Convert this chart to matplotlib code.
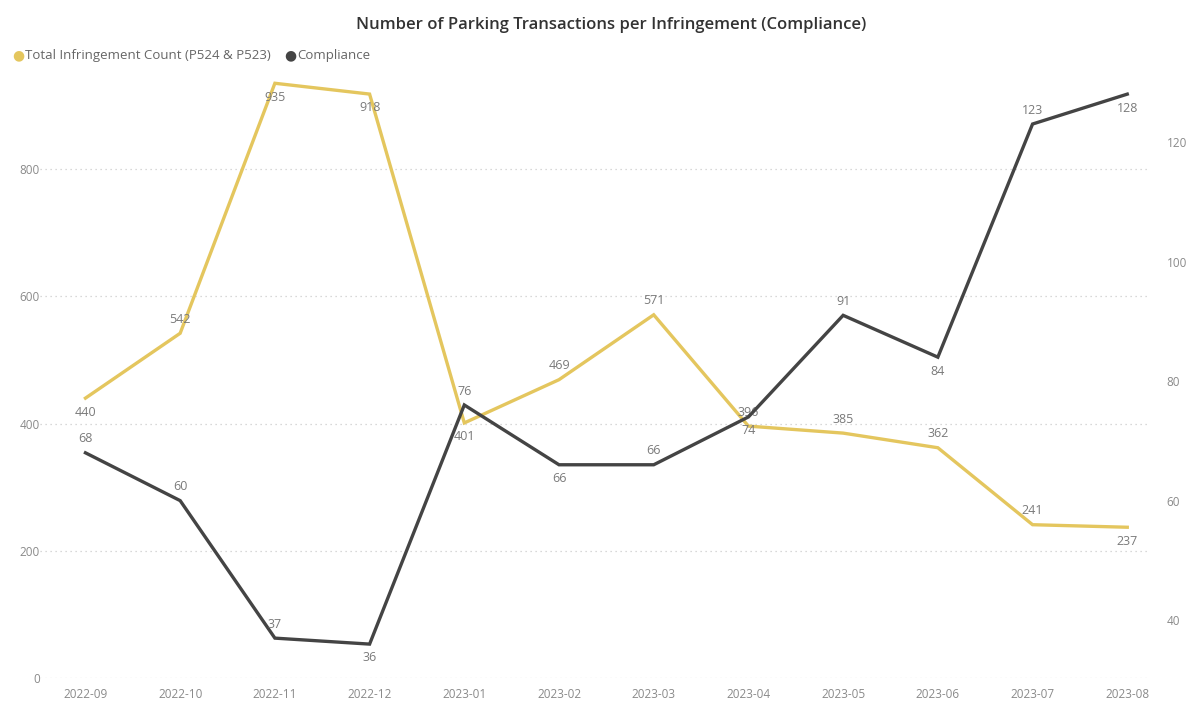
import numpy as np
import matplotlib.pyplot as plt

plt.rcParams['font.family'] = ['Open Sans', 'DejaVu Sans']

months = ['2022-09', '2022-10', '2022-11', '2022-12', '2023-01', '2023-02',
          '2023-03', '2023-04', '2023-05', '2023-06', '2023-07', '2023-08']
infringements = [440, 542, 935, 918, 401, 469, 571, 396, 385, 362, 241, 237]
compliance = [68, 60, 37, 36, 76, 66, 66, 74, 91, 84, 123, 128]

# label placement: 1 = above point, -1 = below
infr_pos = [-1, 1, -1, -1, -1, 1, 1, 1, 1, 1, 1, -1]
comp_pos = [1, 1, 1, -1, 1, -1, 1, -1, 1, -1, 1, -1]

yellow = '#E4C65E'
dark = '#444444'
lbl = '#7a7a7a'

fig = plt.figure(figsize=(11.94, 7.07), dpi=100)
ax = fig.add_axes([40 / 1194, 29 / 707, 1110 / 1194, 603 / 707])
ax2 = ax.twinx()

x = np.arange(len(months))
ax.plot(x, infringements, color=yellow, linewidth=2.4, solid_joinstyle='miter', zorder=3)
ax2.plot(x, compliance, color=dark, linewidth=2.4, solid_joinstyle='miter', zorder=3)

for i, v in enumerate(infringements):
    ax.annotate(str(v), (x[i], v), xytext=(0, 10 * infr_pos[i]), textcoords='offset points',
                ha='center', va='center', fontsize=9, color=lbl)
for i, v in enumerate(compliance):
    ax2.annotate(str(v), (x[i], v), xytext=(0, 10 * comp_pos[i]), textcoords='offset points',
                 ha='center', va='center', fontsize=9, color=lbl)

ax.set_xlim(-0.48, 11.24)
ax.set_ylim(0, 948)
ax2.set_ylim(30.33, 131.2)

ax.set_yticks([0, 200, 400, 600, 800])
ax2.set_yticks([40, 60, 80, 100, 120])
ax.set_xticks(x)
ax.set_xticklabels(months)

ax.grid(axis='y', linestyle=(0, (1, 3)), color='#cccccc', linewidth=0.9)
ax.set_axisbelow(True)
for a in (ax, ax2):
    for s in a.spines.values():
        s.set_visible(False)
ax.tick_params(axis='both', length=0, labelsize=8.5, labelcolor='#8a8a8a')
ax.tick_params(axis='y', pad=0)
ax.tick_params(axis='x', pad=7)
ax2.tick_params(axis='y', length=0, labelsize=8.5, labelcolor='#8a8a8a', pad=12)

fig.text(0.512, 0.965, 'Number of Parking Transactions per Infringement (Compliance)',
         ha='center', va='center', fontsize=12, color='#333333', fontweight='semibold')

fig.text(0.010, 0.921, '\u25cf', color=yellow, fontsize=10, va='center', ha='left')
fig.text(0.021, 0.921, 'Total Infringement Count (P524 & P523)', color='#666666',
         fontsize=9.5, va='center', ha='left')
fig.text(0.238, 0.921, '\u25cf', color=dark, fontsize=10, va='center', ha='left')
fig.text(0.249, 0.921, 'Compliance', color='#666666', fontsize=9.5, va='center', ha='left')

fig.savefig('out.png', dpi=100)
